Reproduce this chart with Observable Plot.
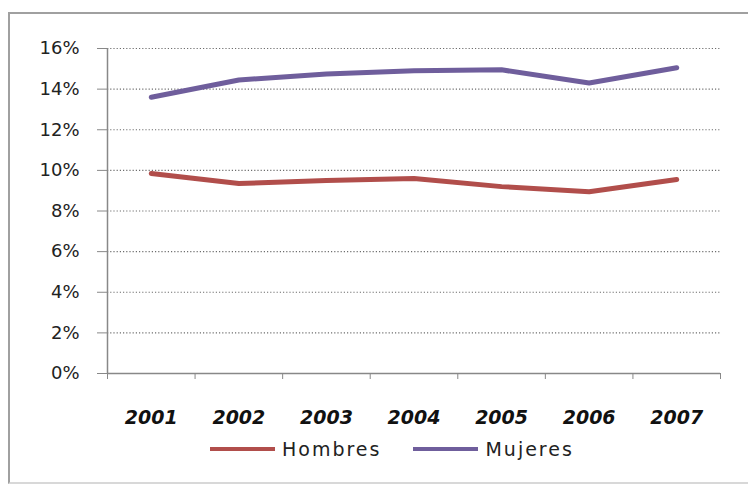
<!DOCTYPE html>
<html>
<head>
<meta charset="utf-8">
<script src="https://cdn.jsdelivr.net/npm/d3@7"></script>
<script src="https://cdn.jsdelivr.net/npm/@observablehq/plot@0.6"></script>
<style>
  html, body { margin: 0; padding: 0; background: #fff; }
  #wrap { position: relative; width: 748px; height: 484px; overflow: hidden; background: #fff; }
  #frame { position: absolute; left: 8px; top: 12px; width: 760px; height: 468px;
           border-left: 2px solid #a0a0a0; border-top: 2px solid #a0a0a0; border-bottom: 2px solid #d8d8d8; }
  #chart { position: absolute; left: 0; top: 0; }
  #legend { position: absolute; left: 210px; top: 438px; display: flex; align-items: center;
            font-family: "DejaVu Sans", sans-serif; font-size: 19px; color: #222; letter-spacing: 2px; }
  .item { display: flex; align-items: center; margin-right: 32px; }
  .swatch { width: 65px; height: 4px; margin-right: 7px; }
</style>
</head>
<body>
<div id="wrap">
  <div id="frame"></div>
  <div id="chart"></div>
  <div id="legend"></div>
</div>
<script>
const years = [2001, 2002, 2003, 2004, 2005, 2006, 2007];
const hombres = [9.85, 9.35, 9.5, 9.6, 9.2, 8.95, 9.55];
const mujeres = [13.6, 14.45, 14.75, 14.9, 14.95, 14.3, 15.05];
const seriesNames = ["Hombres", "Mujeres"];
const seriesColors = ["#b14e4b", "#6f5e9c"];
const yTicks = [0, 2, 4, 6, 8, 10, 12, 14, 16];

const rows = [];
years.forEach((y, i) => {
  rows.push({year: y, value: hombres[i], serie: seriesNames[0]});
  rows.push({year: y, value: mujeres[i], serie: seriesNames[1]});
});
const boundaries = [years[0] - 0.5, ...years.map(y => y + 0.5)];
const gridTicks = yTicks.filter(t => t > 0);

const chart = Plot.plot({
  width: 748,
  height: 440,
  marginLeft: 107,
  marginRight: 28,
  marginTop: 48,
  marginBottom: 67,
  style: {background: "transparent", fontFamily: "DejaVu Sans, sans-serif"},
  x: {type: "linear", domain: [years[0] - 0.5, years[years.length - 1] + 0.5]},
  y: {type: "linear", domain: [0, 16]},
  color: {domain: seriesNames, range: seriesColors},
  marks: [
    Plot.ruleY(gridTicks, {stroke: "#6e6e6e", strokeWidth: 1.2, strokeDasharray: "1.2,2"}),
    Plot.axisY(yTicks, {tickSize: 10, tickPadding: 18, tickFormat: d => d + "%",
      fontSize: 18, fill: "#222", stroke: "#888", strokeOpacity: 1, label: null}),
    Plot.ruleX([years[0] - 0.5], {stroke: "#888", strokeWidth: 1.5}),
    Plot.ruleY([0], {stroke: "#888", strokeWidth: 1.5}),
    Plot.axisX(boundaries, {tickSize: 6, tickFormat: () => "", stroke: "#888", strokeOpacity: 1, label: null}),
    Plot.axisX(years, {tickSize: 0, tickPadding: 37, tickFormat: d => String(d),
      fontSize: 19, fontWeight: "bold", fontStyle: "italic", fill: "#111", label: null}),
    Plot.line(rows, {x: "year", y: "value", z: "serie", stroke: "serie",
      strokeWidth: 5, strokeLinejoin: "round", strokeLinecap: "round"})
  ]
});
document.getElementById("chart").appendChild(chart);

const legend = document.getElementById("legend");
seriesNames.forEach((n, i) => {
  const it = document.createElement("div");
  it.className = "item";
  const sw = document.createElement("div");
  sw.className = "swatch";
  sw.style.background = seriesColors[i];
  const tx = document.createElement("span");
  tx.textContent = n;
  it.appendChild(sw); it.appendChild(tx);
  legend.appendChild(it);
});
</script>
</body>
</html>
